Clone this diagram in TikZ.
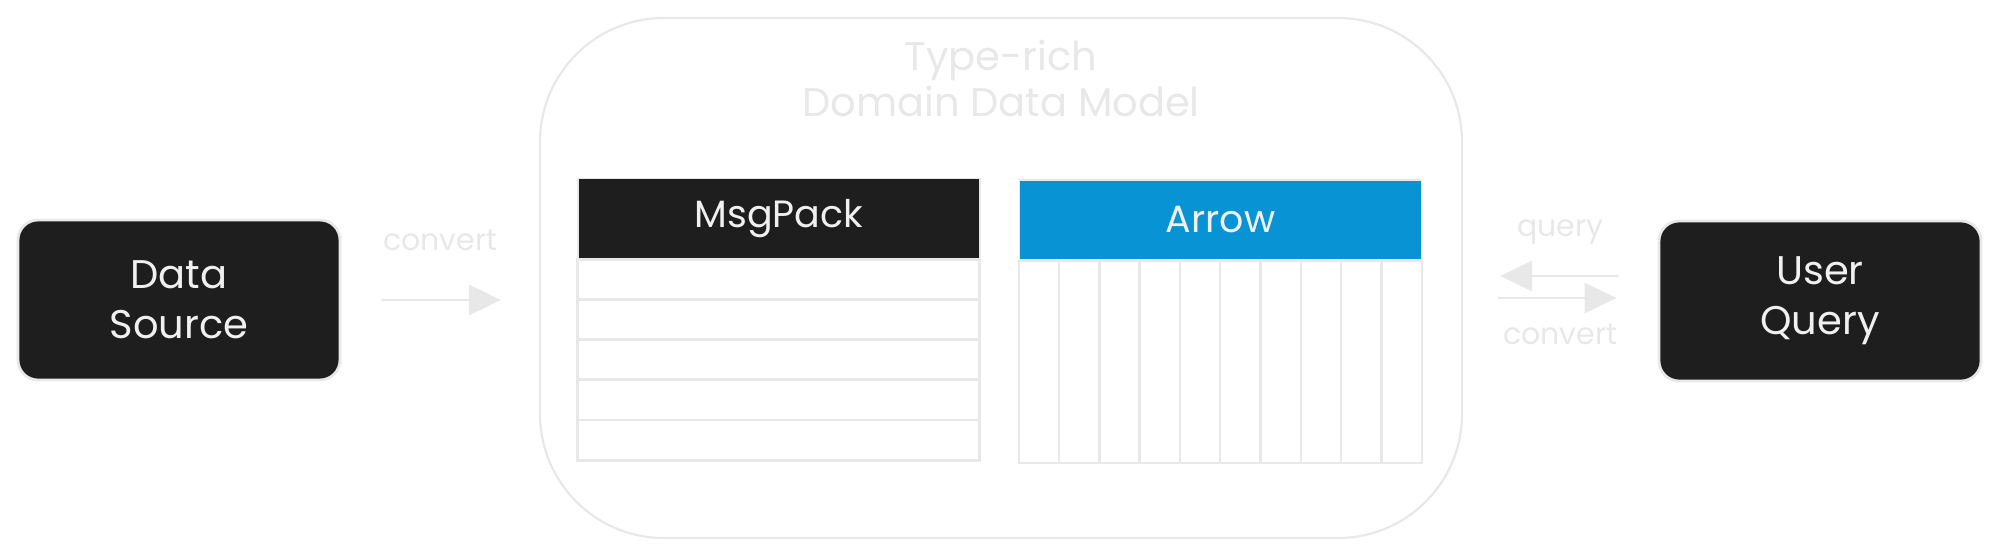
\documentclass[tikz,border=0pt]{standalone}
\usepackage{fontspec}
\setmainfont{Poppins}
\usetikzlibrary{positioning,arrows.meta}

\definecolor{inkdark}{HTML}{1E1E1E}
\definecolor{softgray}{HTML}{E8E8E8}
\definecolor{paleink}{HTML}{F0F0F0}
\definecolor{arrowblue}{HTML}{0793D4}

\tikzset{
  endbox/.style={draw=softgray, line width=1.4pt, fill=inkdark, rounded corners=10pt,
    minimum width=161pt, minimum height=80pt, text=paleink, align=center,
    font=\fontsize{20}{25}\selectfont},
  frame/.style={draw=softgray, line width=1.1pt, rounded corners=62pt,
    minimum width=461pt, minimum height=260pt},
  titletext/.style={text=softgray, align=center, font=\fontsize{20}{23}\selectfont},
  headcell/.style={draw=softgray, line width=0.8pt, minimum width=201pt, minimum height=40pt,
    text=paleink, font=\fontsize{19}{22}\selectfont},
  rowcell/.style={draw=softgray, line width=1.4pt, minimum width=201pt, minimum height=20.1pt,
    inner sep=0pt, outer sep=0pt},
  colcell/.style={draw=softgray, line width=1.2pt, minimum width=20.15pt, minimum height=101pt,
    inner sep=0pt, outer sep=0pt},
  flow/.style={draw=softgray, line width=1.4pt, -{Triangle[length=16pt,width=15pt]}},
  note/.style={text=softgray, font=\fontsize{15}{18}\selectfont}
}

\begin{document}
\begin{tikzpicture}[x=0.5pt,y=-0.5pt]

  \useasboundingbox (0,0) rectangle (2000,560);

  % the two ends
  \node[endbox] (datasrc) at (179,300) {Data\\Source};
  \node[endbox] (userqry) at (1820,301) {User\\Query};

  % domain model frame
  \node[frame] (model) at (1001,278) {};
  \node[titletext, below=8pt of model.north] (title) {Type-rich\\Domain Data Model};

  % row layout
  \node[headcell, fill=inkdark] (msgpack) at (779,218.5) {MsgPack};
  \foreach \i in {0,...,4}
    \node[rowcell, anchor=north west] (mrow\i) at ([yshift=-\i*20.1pt]msgpack.south west) {};

  % column layout
  \node[headcell, fill=arrowblue] (arrowhd) at (1220.5,220) {Arrow};
  \foreach \i in {0,...,9}
    \node[colcell, anchor=north west] (acol\i) at ([xshift=\i*20.15pt]arrowhd.south west) {};

  % connectors
  \draw[flow, shorten <=20pt, shorten >=19pt] (datasrc.east) -- (datasrc.east -| model.west)
    node[note, midway, yshift=30pt] {convert};

  \coordinate (qin) at ([yshift=12.5pt]userqry.west);
  \coordinate (cin) at ([yshift=1.5pt]userqry.west);
  \draw[flow, shorten <=19.5pt, shorten >=18.5pt] (qin) -- (qin -| model.east)
    node[note, midway, yshift=22pt] {query};
  \draw[flow, shorten <=17.5pt, shorten >=20.5pt] (cin -| model.east) -- (cin)
    node[note, midway, yshift=-18pt] {convert};

\end{tikzpicture}
\end{document}
